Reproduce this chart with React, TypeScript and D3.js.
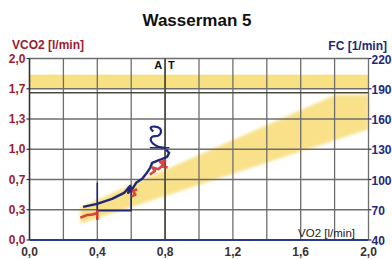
import React from "react";
import * as d3 from "d3";

const title = "Wasserman 5";
const vo2Ticks = [0, 0.4, 0.8, 1.2, 1.6, 2.0];
const vo2Grid = [0.2, 0.4, 0.6, 0.8, 1.0, 1.2, 1.4, 1.6, 1.8];
const vco2Ticks = [0, 1 / 3, 2 / 3, 1, 4 / 3, 5 / 3, 2];
const vco2Labels = ["0,0", "0,3", "0,7", "1,0", "1,3", "1,7", "2,0"];
const fcTicks = [40, 70, 100, 130, 160, 190, 220];

// heart rate series (VO2 l/min, FC 1/min)
const fcVo2 = [0.316, 0.399, 0.487, 0.558, 0.594, 0.582, 0.611, 0.629, 0.665, 0.688, 0.712, 0.724, 0.771, 0.812, 0.824, 0.806];
const fcVal = [72.8, 75.8, 80.8, 86.7, 93.7, 86.7, 91.7, 96.7, 100.7, 105.6, 111.6, 116.6, 119.6, 122.5, 126.5, 129.5];
// recovery loop
const loopVo2 = [0.80, 0.76, 0.73, 0.715, 0.725, 0.76, 0.775, 0.77, 0.74, 0.715, 0.73];
const loopFc = [131.5, 132.5, 135.5, 139.5, 142.5, 143.5, 146.5, 150.5, 152.5, 151.5, 147.5];
// VCO2 series (VO2 l/min, VCO2 l/min); null = gap in the recording
const co2Vo2 = [0.30, 0.34, 0.37, 0.395, null, 0.40, 0.40, null, 0.6, 0.625, 0.61, 0.635, null, 0.71, 0.74, 0.725, 0.76, 0.79, 0.77, 0.80, 0.78, 0.815];
const co2Val = [0.245, 0.275, 0.28, 0.295, null, 0.33, 0.22, null, 0.48, 0.5, 0.54, 0.56, null, 0.72, 0.76, 0.8, 0.78, 0.83, 0.86, 0.87, 0.81, 0.80];
// bracket marker (VO2, FC)
const bracketVo2 = [0.4, 0.4, 0.6, 0.6];
const bracketFc = [96.7, 69, 69, 93];
// predicted bands
const hrBand = [190, 204];
const hrMax = 186;
const atVo2 = 0.8;
const bandVo2 = [0.3, 2.0];
const bandLow = [0.18, 1.22];
const bandHigh = [0.36, 1.76];
const bandCap = 1.6;

export default function App() {
  const W = 392, H = 259;
  const x = d3.scaleLinear().domain([0, 2]).range([29.5, 368.5]);
  const yL = d3.scaleLinear().domain([0, 2]).range([240, 58.5]);
  const yR = d3.scaleLinear().domain([40, 220]).range([240, 58.5]);

  const lo = d3.scaleLinear().domain(bandVo2).range(bandLow);
  const hi = d3.scaleLinear().domain(bandVo2).range(bandHigh);
  const capX = hi.invert(bandCap);
  const bandPts: [number, number][] = [
    [bandVo2[0], lo(bandVo2[0])],
    [bandVo2[1], lo(bandVo2[1])],
    [bandVo2[1], bandCap],
    [capX, bandCap],
    [bandVo2[0], hi(bandVo2[0])],
  ];
  const area = d3.line<[number, number]>().x(d => x(d[0])).y(d => yL(d[1]));

  const fcLine = d3.line<number>().x((d, i) => x(fcVo2[i])).y((d, i) => yR(fcVal[i]));
  const loopLine = d3.line<number>().x((d, i) => x(loopVo2[i])).y((d, i) => yR(loopFc[i])).curve(d3.curveCatmullRom);
  const co2Line = d3.line<number | null>()
    .defined((d, i) => co2Vo2[i] != null)
    .x((d, i) => x(co2Vo2[i] as number))
    .y((d, i) => yL(co2Val[i] as number));
  const brLine = d3.line<number>().x((d, i) => x(bracketVo2[i])).y((d, i) => yR(bracketFc[i]));

  const red = "#9b1c2e";
  const navy = "#1f2878";
  const grid = "#6e6e6e";
  const font = "'Liberation Sans', Arial, sans-serif";

  return (
    <svg width={W} height={H} style={{ position: "absolute", left: 0, top: 0, background: "#fff" }} fontFamily={font}>
      <defs>
        <filter id="soft" x="-10%" y="-10%" width="120%" height="120%">
          <feGaussianBlur stdDeviation="1.4" />
        </filter>
      </defs>
      <text x={197} y={26} textAnchor="middle" fontSize={17} fontWeight="bold" fill="#111">{title}</text>

      {/* bands */}
      <rect x={x(0)} width={x(2) - x(0)} y={yR(hrBand[1])} height={yR(hrBand[0]) - yR(hrBand[1])} fill="#f6dc6c" opacity={0.85} />
      <path d={area(bandPts) + "Z"} fill="#f7dc74" opacity={0.85} filter="url(#soft)" />

      {/* grid */}
      {vo2Grid.map(v => (
        <line key={"gx" + v} x1={x(v)} x2={x(v)} y1={yL(2)} y2={yL(0)} stroke={grid} strokeWidth={1.3} />
      ))}
      {vco2Ticks.slice(1).map(v => (
        <line key={"gy" + v} x1={x(0)} x2={x(2)} y1={yL(v)} y2={yL(v)} stroke={grid} strokeWidth={1.3} />
      ))}
      <line x1={x(2)} x2={x(2)} y1={yL(2)} y2={yL(0)} stroke={grid} strokeWidth={1.3} />
      <line x1={x(0)} x2={x(2)} y1={yR(hrMax)} y2={yR(hrMax)} stroke="#4a4a3a" strokeWidth={1.5} />
      <line x1={x(atVo2)} x2={x(atVo2)} y1={yL(2)} y2={yL(0)} stroke="#4a4a3a" strokeWidth={1.6} />
      <text x={x(atVo2) - 3} y={69} textAnchor="end" fontSize={11} fontWeight="bold" fill="#111">A</text>
      <text x={x(atVo2) + 3} y={69} textAnchor="start" fontSize={11} fontWeight="bold" fill="#111">T</text>

      {/* axes */}
      <line x1={x(0)} x2={x(0)} y1={yL(2)} y2={yL(0)} stroke="#333" strokeWidth={1.6} />
      <line x1={x(0)} x2={x(2)} y1={yL(0)} y2={yL(0)} stroke="#2a3a8a" strokeWidth={2} />
      {vco2Ticks.map((v, i) => (
        <g key={"lt" + i}>
          <line x1={x(0) - 3} x2={x(0)} y1={yL(v)} y2={yL(v)} stroke="#333" strokeWidth={1.2} />
          <text x={x(0) - 4} y={yL(v) + 4} textAnchor="end" fontSize={12} fontWeight="bold" fill={red}>{vco2Labels[i]}</text>
        </g>
      ))}
      {fcTicks.map(v => (
        <g key={"rt" + v}>
          <line x1={x(2)} x2={x(2) + 3} y1={yR(v)} y2={yR(v)} stroke={navy} strokeWidth={1.2} />
          <text x={x(2) + 3} y={yR(v) + 5} textAnchor="start" fontSize={12} fontWeight="bold" fill={navy}>{v}</text>
        </g>
      ))}
      {vo2Ticks.map(v => (
        <text key={"bt" + v} x={x(v)} y={256} textAnchor="middle" fontSize={12} fontWeight="bold" fill="#3a3030">{d3.format(".1f")(v).replace(".", ",")}</text>
      ))}
      <text x={12} y={49} fontSize={12} fontWeight="bold" fill={red}>VCO2 [l/min]</text>
      <text x={387} y={50} textAnchor="end" fontSize={12} fontWeight="bold" fill={navy}>FC [1/min]</text>
      <text x={355} y={237} textAnchor="end" fontSize={11.5} fill="#222">VO2 [l/min]</text>

      {/* data */}
      <path d={brLine(bracketVo2) || ""} fill="none" stroke={navy} strokeWidth={1.6} />
      <path d={fcLine(fcVo2) || ""} fill="none" stroke={navy} strokeWidth={2.4} strokeLinejoin="round" />
      <path d={loopLine(loopVo2) || ""} fill="none" stroke={navy} strokeWidth={2.2} />
      <line x1={x(0.71)} x2={x(0.825)} y1={yR(131.5)} y2={yR(131.5)} stroke={navy} strokeWidth={1.5} />
      <path d={co2Line(co2Vo2) || ""} fill="none" stroke="#d4342c" strokeWidth={2.6} strokeLinejoin="round" opacity={0.9} />
    </svg>
  );
}
